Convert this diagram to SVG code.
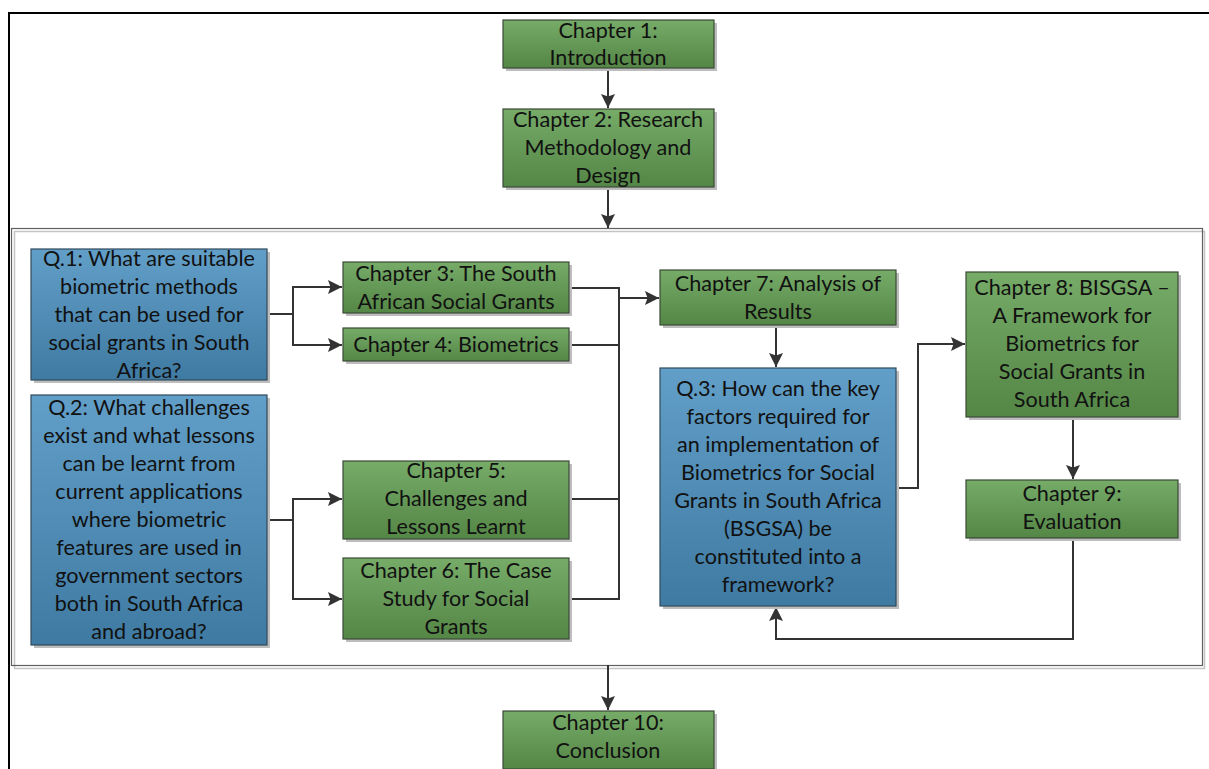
<svg xmlns="http://www.w3.org/2000/svg" width="1209" height="769" viewBox="0 0 1209 769">
  <defs>
    <linearGradient id="gGreen" x1="0" y1="0" x2="0" y2="1">
      <stop offset="0" stop-color="#76ab68"/>
      <stop offset="1" stop-color="#548646"/>
    </linearGradient>
    <linearGradient id="gBlue" x1="0" y1="0" x2="0" y2="1">
      <stop offset="0" stop-color="#629fc8"/>
      <stop offset="1" stop-color="#3f7aa2"/>
    </linearGradient>
    <marker id="arrow" markerUnits="userSpaceOnUse" markerWidth="15" markerHeight="14" refX="14" refY="7" orient="auto">
      <path d="M0,0 L14,7 L0,14 L2.5,7 z" fill="#333"/>
    </marker>
  </defs>
  <style>
    .shadow { fill: #bdbdbd; }
    .green { fill: url(#gGreen); stroke: #3a4a36; stroke-width: 1.2; }
    .blue { fill: url(#gBlue); stroke: #2f4a5c; stroke-width: 1.2; }
    text { font-family: Lato, "Liberation Sans", sans-serif; font-size: 21.6px; fill: #111; text-anchor: middle; dominant-baseline: central; transform: translate(0px, -1px); }
    .conn { fill: none; stroke: #333; stroke-width: 2; }
    .arr { marker-end: url(#arrow); }
  </style>

  <rect x="0" y="0" width="1209" height="769" fill="#fff"/>

  <!-- page frame -->
  <path d="M8,13 H1209 M9,13 V769" fill="none" stroke="#000" stroke-width="2"/>

  <!-- research-question panel -->
  <g id="panel">
    <rect x="14.5" y="231.5" width="1190" height="437" fill="none" stroke="#c4c4c4" stroke-width="1.5"/>
    <rect x="11.5" y="228.5" width="1191" height="437" fill="none" stroke="#606060" stroke-width="1.2"/>
  </g>

  <!-- connectors -->
  <g id="connectors">
    <line class="conn arr" x1="608" y1="68" x2="608" y2="108"/>
    <line class="conn arr" x1="608" y1="187" x2="608" y2="228"/>
    <!-- Q.1 to chapters 3 and 4 -->
    <path class="conn" d="M267,314 H293 M293,287 V345"/>
    <line class="conn arr" x1="292" y1="287" x2="342" y2="287"/>
    <line class="conn arr" x1="292" y1="345" x2="342" y2="345"/>
    <!-- Q.2 to chapters 5 and 6 -->
    <path class="conn" d="M267,520 H293 M293,499 V599"/>
    <line class="conn arr" x1="292" y1="499" x2="342" y2="499"/>
    <line class="conn arr" x1="292" y1="599" x2="342" y2="599"/>
    <!-- chapters 3-6 merge into chapter 7 -->
    <path class="conn" d="M569,288 H619 M569,345 H619 M569,499 H619 M569,599 H619 M619,287 V600"/>
    <line class="conn arr" x1="618" y1="298" x2="659" y2="298"/>
    <!-- chapter 7 to Q.3 -->
    <line class="conn arr" x1="776" y1="325" x2="776" y2="367"/>
    <!-- Q.3 to chapter 8 -->
    <path class="conn arr" d="M896,488 H918 V344 H965"/>
    <!-- chapter 8 to chapter 9 -->
    <line class="conn arr" x1="1073" y1="417" x2="1073" y2="479"/>
    <!-- chapter 9 back to Q.3 -->
    <path class="conn arr" d="M1073,538 V639 H776 V607"/>
    <!-- panel to chapter 10 -->
    <line class="conn arr" x1="608" y1="665" x2="608" y2="710"/>
  </g>

  <g id="ch1">
    <rect class="shadow" x="506" y="23" width="211" height="48"/>
    <rect class="green" x="503" y="20" width="211" height="48"/>
    <text x="608" y="31">Chapter 1:</text>
    <text x="608" y="58">Introduction</text>
  </g>

  <g id="ch2">
    <rect class="shadow" x="506" y="112" width="211" height="78"/>
    <rect class="green" x="503" y="109" width="211" height="78"/>
    <text x="608" y="120">Chapter 2: Research</text>
    <text x="608" y="148">Methodology and</text>
    <text x="608" y="176">Design</text>
  </g>

  <g id="q1">
    <rect class="shadow" x="34" y="252" width="236" height="131"/>
    <rect class="blue" x="31" y="249" width="236" height="131"/>
    <text x="149" y="259">Q.1: What are suitable</text>
    <text x="149" y="287">biometric methods</text>
    <text x="149" y="315">that can be used for</text>
    <text x="149" y="343">social grants in South</text>
    <text x="149" y="371">Africa?</text>
  </g>

  <g id="q2">
    <rect class="shadow" x="34" y="398" width="236" height="250"/>
    <rect class="blue" x="31" y="395" width="236" height="250"/>
    <text x="149" y="408">Q.2: What challenges</text>
    <text x="149" y="436">exist and what lessons</text>
    <text x="149" y="464">can be learnt from</text>
    <text x="149" y="492">current applications</text>
    <text x="149" y="520">where biometric</text>
    <text x="149" y="548">features are used in</text>
    <text x="149" y="576">government sectors</text>
    <text x="149" y="604">both in South Africa</text>
    <text x="149" y="632">and abroad?</text>
  </g>

  <g id="ch3">
    <rect class="shadow" x="346" y="265" width="226" height="51"/>
    <rect class="green" x="343" y="262" width="226" height="51"/>
    <text x="456" y="274">Chapter 3: The South</text>
    <text x="456" y="302">African Social Grants</text>
  </g>

  <g id="ch4">
    <rect class="shadow" x="346" y="331" width="226" height="33"/>
    <rect class="green" x="343" y="328" width="226" height="33"/>
    <text x="456" y="345">Chapter 4: Biometrics</text>
  </g>

  <g id="ch5">
    <rect class="shadow" x="346" y="464" width="226" height="78"/>
    <rect class="green" x="343" y="461" width="226" height="78"/>
    <text x="456" y="471">Chapter 5:</text>
    <text x="456" y="499">Challenges and</text>
    <text x="456" y="527">Lessons Learnt</text>
  </g>

  <g id="ch6">
    <rect class="shadow" x="346" y="561" width="226" height="81"/>
    <rect class="green" x="343" y="558" width="226" height="81"/>
    <text x="456" y="571">Chapter 6: The Case</text>
    <text x="456" y="599">Study for Social</text>
    <text x="456" y="627">Grants</text>
  </g>

  <g id="ch7">
    <rect class="shadow" x="663" y="273" width="236" height="55"/>
    <rect class="green" x="660" y="270" width="236" height="55"/>
    <text x="778" y="284">Chapter 7: Analysis of</text>
    <text x="778" y="312">Results</text>
  </g>

  <g id="q3">
    <rect class="shadow" x="663" y="371" width="236" height="238"/>
    <rect class="blue" x="660" y="368" width="236" height="238"/>
    <text x="778" y="389">Q.3: How can the key</text>
    <text x="778" y="417">factors required for</text>
    <text x="778" y="445">an implementation of</text>
    <text x="778" y="473">Biometrics for Social</text>
    <text x="778" y="501">Grants in South Africa</text>
    <text x="778" y="529">(BSGSA) be</text>
    <text x="778" y="557">constituted into a</text>
    <text x="778" y="585">framework?</text>
  </g>

  <g id="ch8">
    <rect class="shadow" x="969" y="275" width="212" height="145"/>
    <rect class="green" x="966" y="272" width="212" height="145"/>
    <text x="1072" y="288">Chapter 8: BISGSA –</text>
    <text x="1072" y="316">A Framework for</text>
    <text x="1072" y="344">Biometrics for</text>
    <text x="1072" y="372">Social Grants in</text>
    <text x="1072" y="400">South Africa</text>
  </g>

  <g id="ch9">
    <rect class="shadow" x="969" y="483" width="212" height="58"/>
    <rect class="green" x="966" y="480" width="212" height="58"/>
    <text x="1072" y="494">Chapter 9:</text>
    <text x="1072" y="522">Evaluation</text>
  </g>

  <g id="ch10">
    <rect class="shadow" x="506" y="714" width="211" height="58"/>
    <rect class="green" x="503" y="711" width="211" height="58"/>
    <text x="608" y="723">Chapter 10:</text>
    <text x="608" y="751">Conclusion</text>
  </g>
</svg>
